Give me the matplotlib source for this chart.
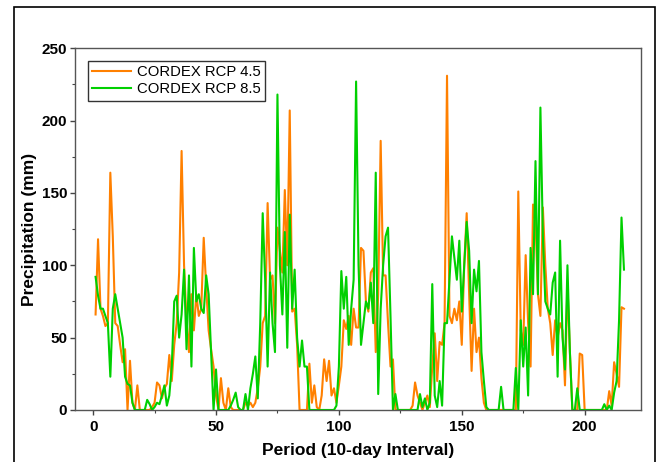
import matplotlib
matplotlib.use("Agg")
import matplotlib.pyplot as plt
from matplotlib.patches import Rectangle
from matplotlib.ticker import MultipleLocator
import numpy as np

plt.rcParams['font.family'] = ['Liberation Sans', 'DejaVu Sans']

period = list(range(1, 217))

rcp45 = [66, 118, 70, 65, 58, 60, 164, 120, 60, 58, 45, 33, 42, 0, 34, 5, 0, 17, 0, 0,
         0, 0, 0, 2, 5, 19, 17, 8, 15, 18, 38, 20, 45, 60, 95, 179, 100, 62, 40, 80,
         55, 80, 65, 70, 119, 85, 55, 42, 30, 10, 0, 22, 5, 0, 15, 2, 0, 0, 0, 0,
         0, 5, 3, 5, 2, 5, 15, 30, 60, 65, 143, 90, 93, 60, 126, 110, 95, 152, 100, 207,
         68, 70, 45, 0, 0, 0, 0, 32, 5, 17, 2, 0, 10, 35, 20, 34, 10, 15, 5, 17,
         30, 62, 56, 65, 45, 70, 57, 57, 112, 110, 75, 68, 95, 98, 40, 80, 186, 93, 93, 60,
         30, 35, 0, 0, 0, 0, 0, 0, 0, 3, 19, 10, 5, 0, 5, 10, 2, 30, 53, 20,
         47, 45, 60, 231, 65, 60, 70, 62, 75, 45, 100, 136, 80, 27, 70, 40, 50, 22, 5, 0,
         0, 0, 0, 0, 0, 0, 0, 0, 0, 0, 0, 0, 151, 55, 45, 107, 60, 30, 142, 130,
         80, 65, 140, 100, 70, 60, 38, 62, 50, 60, 55, 17, 87, 40, 0, 0, 0, 39, 38, 0,
         0, 0, 0, 0, 0, 0, 0, 0, 0, 13, 3, 33, 25, 16, 71, 70]

rcp85 = [92, 79, 70, 70, 65, 60, 23, 70, 80, 70, 60, 50, 23, 18, 17, 5, 0, 0, 0, 0,
         0, 7, 4, 0, 2, 5, 4, 10, 17, 3, 10, 30, 75, 79, 50, 66, 97, 42, 93, 30,
         112, 75, 80, 70, 67, 93, 80, 40, 0, 28, 0, 0, 0, 0, 0, 3, 7, 12, 2, 0,
         0, 11, 0, 15, 25, 37, 8, 60, 136, 90, 30, 95, 60, 40, 218, 100, 66, 123, 43, 135,
         70, 97, 50, 30, 48, 30, 30, 0, 0, 0, 0, 0, 0, 0, 0, 0, 0, 0, 3, 30,
         96, 70, 92, 45, 70, 90, 227, 100, 45, 60, 75, 70, 88, 60, 164, 11, 70, 100, 120, 126,
         65, 0, 11, 0, 0, 0, 0, 0, 0, 0, 0, 0, 11, 2, 8, 0, 5, 87, 10, 2,
         20, 3, 60, 60, 90, 120, 105, 90, 117, 68, 100, 130, 110, 60, 97, 82, 103, 40, 20, 2,
         0, 0, 0, 0, 0, 16, 0, 0, 0, 0, 0, 29, 0, 62, 30, 57, 10, 112, 80, 172,
         80, 209, 120, 75, 70, 66, 88, 95, 23, 117, 50, 28, 100, 40, 0, 0, 15, 0, 0, 0,
         0, 0, 0, 0, 0, 0, 0, 4, 0, 3, 0, 12, 20, 62, 133, 97]

labels = ["CORDEX RCP 4.5", "CORDEX RCP 8.5"]
colors = ["#FF8000", "#00D000"]

fig = plt.figure(figsize=(6.61, 4.62), dpi=100)
ax = fig.add_axes([0.113, 0.1126, 0.857, 0.783])

ax.plot(period, rcp45, color=colors[0], lw=1.5, label=labels[0])
ax.plot(period, rcp85, color=colors[1], lw=1.5, label=labels[1])

ax.set_xlim(-7.5, 223)
ax.set_ylim(0, 250)
ax.xaxis.set_major_locator(MultipleLocator(50))
ax.xaxis.set_minor_locator(MultipleLocator(25))
ax.yaxis.set_major_locator(MultipleLocator(50))
ax.yaxis.set_minor_locator(MultipleLocator(25))
ax.tick_params(axis='both', which='major', length=3.5, width=1, labelsize=11, color='#444444')
ax.tick_params(axis='y', which='major', pad=2)
ax.tick_params(axis='both', which='minor', length=2, width=0.8, color='#444444')
for lab in ax.get_xticklabels() + ax.get_yticklabels():
    lab.set_fontweight('bold')
for sp in ax.spines.values():
    sp.set_color('#555555')
    sp.set_linewidth(1.0)

ax.set_xlabel("Period (10-day Interval)", fontsize=12.5, fontweight='bold', labelpad=7)
ax.set_ylabel("Precipitation (mm)", fontsize=12.5, fontweight='bold', labelpad=3)

leg = ax.legend(loc='upper left', fontsize=10.7, frameon=True, fancybox=False,
                edgecolor='black', borderpad=0.3, handlelength=2.6, handletextpad=0.4,
                labelspacing=0.2, bbox_to_anchor=(0.023, 0.965), borderaxespad=0.0)
leg.get_frame().set_linewidth(1.0)

fig.patches.append(Rectangle((0.021, -0.05), 0.970, 1.035, transform=fig.transFigure,
                             fill=False, edgecolor='black', linewidth=1.2))

fig.savefig("out.png", dpi=100)
